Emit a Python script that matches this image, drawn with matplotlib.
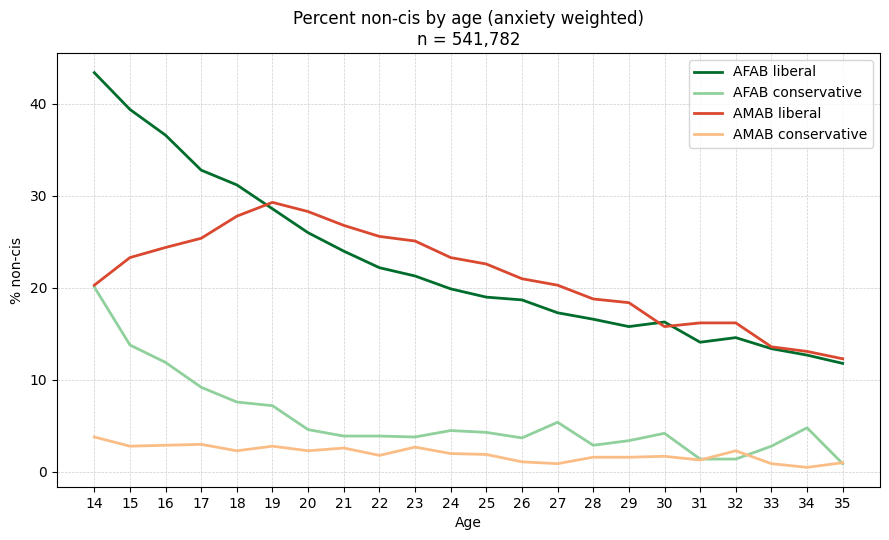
import matplotlib.pyplot as plt
import numpy as np

ages = list(range(14, 36))

afab_liberal = [43.4, 39.4, 36.6, 32.8, 31.2, 28.6, 26.0, 24.0, 22.2, 21.3, 19.9,
                19.0, 18.7, 17.3, 16.6, 15.8, 16.3, 14.1, 14.6, 13.4, 12.7, 11.8]
afab_conservative = [20.1, 13.8, 11.9, 9.2, 7.6, 7.2, 4.6, 3.9, 3.9, 3.8, 4.5,
                     4.3, 3.7, 5.4, 2.9, 3.4, 4.2, 1.4, 1.4, 2.8, 4.8, 0.9]
amab_liberal = [20.3, 23.3, 24.4, 25.4, 27.8, 29.3, 28.3, 26.8, 25.6, 25.1, 23.3,
                22.6, 21.0, 20.3, 18.8, 18.4, 15.8, 16.2, 16.2, 13.6, 13.1, 12.3]
amab_conservative = [3.8, 2.8, 2.9, 3.0, 2.3, 2.8, 2.3, 2.6, 1.8, 2.7, 2.0,
                     1.9, 1.1, 0.9, 1.6, 1.6, 1.7, 1.3, 2.3, 0.9, 0.5, 1.0]

series = [
    ('AFAB liberal', afab_liberal, '#006d2c'),
    ('AFAB conservative', afab_conservative, '#90d09c'),
    ('AMAB liberal', amab_liberal, '#d9482f'),
    ('AMAB conservative', amab_conservative, '#fbbd86'),
]

fig, ax = plt.subplots(figsize=(8.89, 5.4), dpi=100)

for label, vals, color in series:
    ax.plot(ages, vals, label=label, color=color, linewidth=2)

ax.set_xticks(ages)
ax.grid(True, linestyle='--', linewidth=0.5, alpha=0.6)
ax.set_xlabel('Age')
ax.set_ylabel('% non-cis')
ax.set_title('Percent non-cis by age (anxiety weighted)\nn = 541,782')
ax.legend(loc='upper right')

fig.subplots_adjust(left=0.064, right=0.99, bottom=0.098, top=0.902)
plt.savefig('out.png')
